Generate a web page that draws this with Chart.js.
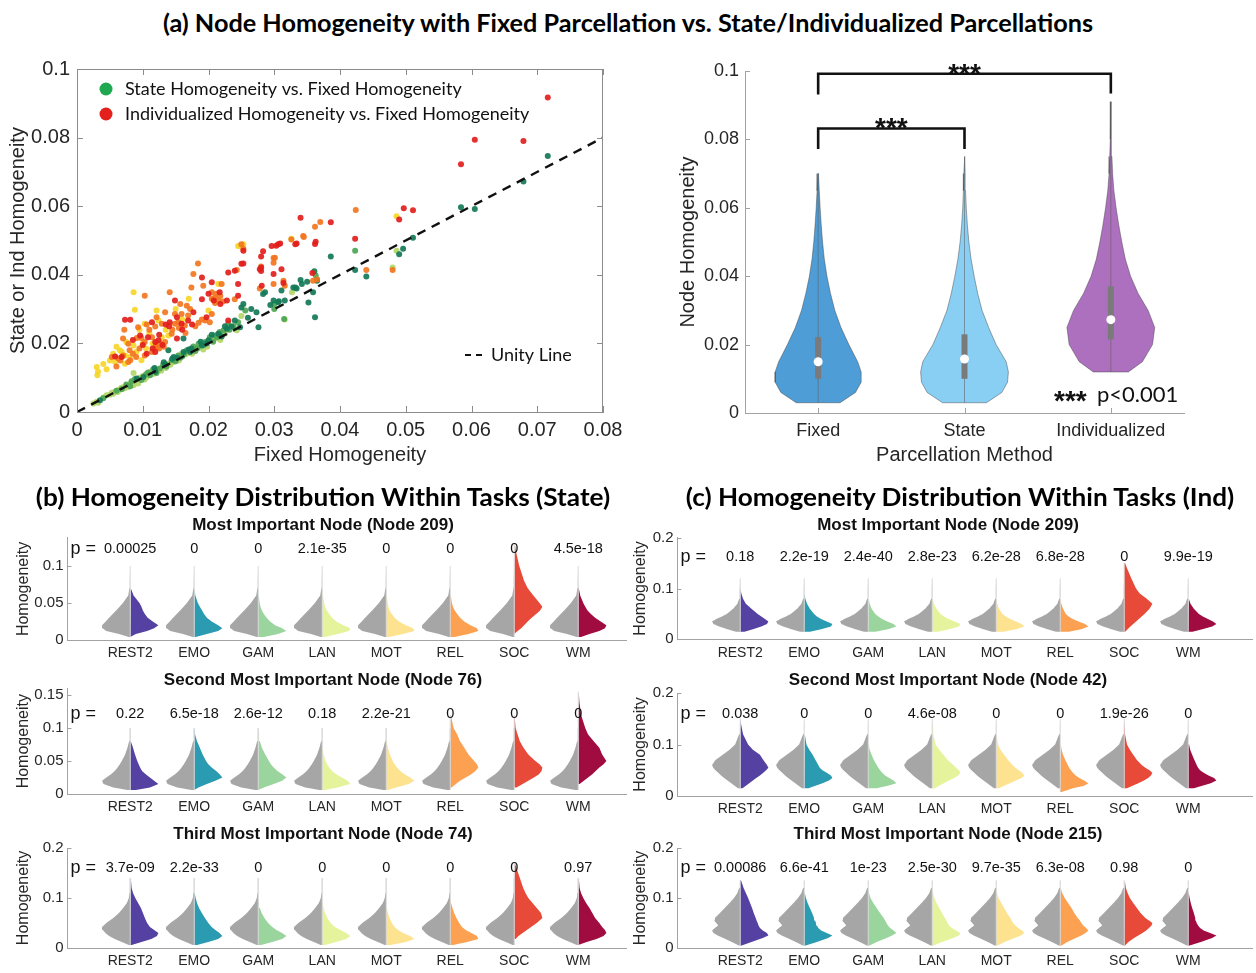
<!DOCTYPE html>
<html lang="en">
<head>
<meta charset="utf-8">
<title>Node homogeneity across parcellations</title>
<script src="https://cdn.jsdelivr.net/npm/chart.js@4.4.1/dist/chart.umd.min.js"></script>
<style>
  html, body { margin: 0; padding: 0; background: #fff; }
  #page { position: relative; width: 1256px; height: 973px; overflow: hidden; background: #fff; }
  #page canvas { position: absolute; }
  .ttl { position: absolute; white-space: nowrap; line-height: 1; color: #000; transform: translate(-50%, -50%); z-index: 2; }
  .head { font-family: Lato, 'Open Sans', sans-serif; font-weight: 700; font-size: 25px; }
  .sub { font-family: 'Liberation Sans', Arial, sans-serif; font-weight: 700; font-size: 17px; color: #111; }
</style>
</head>
<body>
<div id="page">
  <div class="ttl head" style="left:628px;top:22px" data-w="930">(a) Node Homogeneity with Fixed Parcellation vs. State/Individualized Parcellations</div>
  <div class="ttl head" style="left:323px;top:496px" data-w="574">(b) Homogeneity Distribution Within Tasks (State)</div>
  <div class="ttl head" style="left:960px;top:496px" data-w="548">(c) Homogeneity Distribution Within Tasks (Ind)</div>

  <div class="ttl sub" style="left:323px;top:524px">Most Important Node (Node 209)</div>
  <div class="ttl sub" style="left:323px;top:679px">Second Most Important Node (Node 76)</div>
  <div class="ttl sub" style="left:323px;top:833px">Third Most Important Node (Node 74)</div>
  <div class="ttl sub" style="left:948px;top:524px">Most Important Node (Node 209)</div>
  <div class="ttl sub" style="left:948px;top:679px">Second Most Important Node (Node 42)</div>
  <div class="ttl sub" style="left:948px;top:833px">Third Most Important Node (Node 215)</div>

  <canvas id="scatter" width="630" height="420" style="left:0;top:50px"></canvas>
  <canvas id="violin" width="616" height="420" style="left:640px;top:50px"></canvas>
  <canvas id="b1" width="630" height="165" style="left:0;top:505px"></canvas>
  <canvas id="b2" width="630" height="160" style="left:0;top:660px"></canvas>
  <canvas id="b3" width="630" height="158" style="left:0;top:815px"></canvas>
  <canvas id="c1" width="626" height="165" style="left:630px;top:505px"></canvas>
  <canvas id="c2" width="626" height="160" style="left:630px;top:660px"></canvas>
  <canvas id="c3" width="626" height="158" style="left:630px;top:815px"></canvas>
</div>

<script>
// ---------------- (a) left: per-node homogeneity, fixed vs state / individualized ----------------
// [fixed homogeneity, state or individualized homogeneity]
const stateDark = [[0.0035,0.0034],[0.0091,0.0098],[0.0101,0.0102],[0.0118,0.0128],[0.0119,0.0117],[0.0132,0.0145],[0.0134,0.0139],[0.0139,0.0180],[0.0145,0.0155],[0.0147,0.0160],[0.0152,0.0158],[0.0162,0.0175],[0.0162,0.0214],[0.0170,0.0182],[0.0172,0.0175],[0.0174,0.0185],[0.0188,0.0205],[0.0190,0.0194],[0.0197,0.0200],[0.0200,0.0209],[0.0205,0.0225],[0.0215,0.0228],[0.0220,0.0220],[0.0225,0.0250],[0.0228,0.0243],[0.0235,0.0249],[0.0240,0.0267],[0.0248,0.0247],[0.0250,0.0305],[0.0253,0.0315],[0.0260,0.0275],[0.0265,0.0300],[0.0273,0.0291],[0.0276,0.0247],[0.0283,0.0344],[0.0286,0.0349],[0.0294,0.0312],[0.0299,0.0325],[0.0306,0.0320],[0.0307,0.0323],[0.0311,0.0354],[0.0316,0.0325],[0.0329,0.0363],[0.0332,0.0363],[0.0334,0.0360],[0.0340,0.0385],[0.0342,0.0373],[0.0350,0.0380],[0.0352,0.0319],[0.0359,0.0349],[0.0361,0.0410],[0.0362,0.0276],[0.0365,0.0383],[0.0386,0.0453],[0.0423,0.0414],[0.0440,0.0395],[0.0490,0.0460],[0.0496,0.0476],[0.0511,0.0508],[0.0584,0.0597],[0.0605,0.0592],[0.0679,0.0672],[0.0716,0.0746]];
const stateMid = [[0.0040,0.0040],[0.0060,0.0062],[0.0068,0.0066],[0.0075,0.0080],[0.0081,0.0075],[0.0083,0.0090],[0.0088,0.0096],[0.0098,0.0093],[0.0105,0.0110],[0.0108,0.0115],[0.0111,0.0107],[0.0116,0.0125],[0.0121,0.0114],[0.0126,0.0127],[0.0131,0.0138],[0.0136,0.0133],[0.0144,0.0151],[0.0150,0.0148],[0.0154,0.0165],[0.0157,0.0158],[0.0160,0.0162],[0.0163,0.0170],[0.0167,0.0180],[0.0177,0.0191],[0.0180,0.0178],[0.0183,0.0185],[0.0185,0.0199],[0.0193,0.0195],[0.0195,0.0204],[0.0202,0.0218],[0.0207,0.0205],[0.0210,0.0223],[0.0213,0.0218],[0.0217,0.0233],[0.0223,0.0238],[0.0230,0.0257],[0.0232,0.0240],[0.0238,0.0250],[0.0245,0.0262],[0.0256,0.0296],[0.0300,0.0300],[0.0300,0.0315],[0.0315,0.0271],[0.0363,0.0398],[0.0365,0.0386],[0.0423,0.0470]];
const stateLight = [[0.0025,0.0025],[0.0030,0.0030],[0.0032,0.0027],[0.0040,0.0042],[0.0045,0.0049],[0.0050,0.0050],[0.0053,0.0056],[0.0055,0.0053],[0.0058,0.0059],[0.0062,0.0058],[0.0063,0.0064],[0.0067,0.0070],[0.0070,0.0072],[0.0073,0.0069],[0.0076,0.0077],[0.0078,0.0073],[0.0082,0.0084],[0.0086,0.0078],[0.0086,0.0114],[0.0088,0.0088],[0.0090,0.0092],[0.0093,0.0083],[0.0095,0.0100],[0.0100,0.0105],[0.0103,0.0095],[0.0106,0.0102],[0.0112,0.0118],[0.0114,0.0110],[0.0118,0.0112],[0.0124,0.0122],[0.0128,0.0120],[0.0130,0.0131],[0.0135,0.0128],[0.0139,0.0141],[0.0142,0.0138],[0.0146,0.0145],[0.0149,0.0153],[0.0155,0.0150],[0.0159,0.0170],[0.0165,0.0168],[0.0169,0.0172],[0.0175,0.0170],[0.0179,0.0185],[0.0187,0.0188],[0.0192,0.0182],[0.0198,0.0190],[0.0205,0.0209],[0.0212,0.0215],[0.0218,0.0210],[0.0225,0.0228],[0.0243,0.0238],[0.0250,0.0280],[0.0316,0.0270],[0.0327,0.0349],[0.0480,0.0421],[0.0486,0.0470]];
const indRed = [[0.0058,0.0162],[0.0068,0.0160],[0.0073,0.0269],[0.0081,0.0269],[0.0085,0.0210],[0.0096,0.0223],[0.0100,0.0195],[0.0106,0.0170],[0.0108,0.0218],[0.0114,0.0262],[0.0115,0.0185],[0.0119,0.0175],[0.0119,0.0204],[0.0124,0.0209],[0.0125,0.0225],[0.0130,0.0195],[0.0135,0.0255],[0.0140,0.0250],[0.0141,0.0262],[0.0149,0.0325],[0.0152,0.0214],[0.0152,0.0276],[0.0159,0.0257],[0.0160,0.0240],[0.0169,0.0267],[0.0175,0.0255],[0.0177,0.0291],[0.0190,0.0329],[0.0190,0.0392],[0.0197,0.0276],[0.0200,0.0345],[0.0205,0.0378],[0.0208,0.0325],[0.0217,0.0349],[0.0218,0.0315],[0.0228,0.0325],[0.0230,0.0267],[0.0230,0.0407],[0.0240,0.0412],[0.0245,0.0339],[0.0245,0.0373],[0.0250,0.0432],[0.0253,0.0433],[0.0253,0.0470],[0.0278,0.0416],[0.0280,0.0411],[0.0280,0.0421],[0.0280,0.0453],[0.0281,0.0368],[0.0283,0.0469],[0.0296,0.0484],[0.0299,0.0402],[0.0303,0.0485],[0.0306,0.0489],[0.0309,0.0491],[0.0311,0.0416],[0.0314,0.0376],[0.0332,0.0489],[0.0334,0.0491],[0.0340,0.0566],[0.0358,0.0405],[0.0362,0.0490],[0.0363,0.0496],[0.0386,0.0553],[0.0423,0.0505],[0.0490,0.0561],[0.0497,0.0594],[0.0511,0.0588],[0.0584,0.0722],[0.0605,0.0794],[0.0679,0.0790],[0.0716,0.0917]];
const indOrange = [[0.0053,0.0160],[0.0060,0.0133],[0.0063,0.0156],[0.0066,0.0150],[0.0070,0.0165],[0.0070,0.0214],[0.0072,0.0240],[0.0078,0.0146],[0.0078,0.0199],[0.0080,0.0180],[0.0081,0.0151],[0.0085,0.0170],[0.0090,0.0160],[0.0091,0.0216],[0.0093,0.0247],[0.0095,0.0185],[0.0098,0.0216],[0.0103,0.0165],[0.0103,0.0204],[0.0103,0.0339],[0.0106,0.0255],[0.0110,0.0240],[0.0114,0.0175],[0.0114,0.0218],[0.0119,0.0249],[0.0120,0.0195],[0.0121,0.0189],[0.0121,0.0276],[0.0125,0.0185],[0.0128,0.0200],[0.0129,0.0257],[0.0132,0.0190],[0.0134,0.0204],[0.0134,0.0291],[0.0141,0.0349],[0.0144,0.0228],[0.0145,0.0240],[0.0149,0.0257],[0.0149,0.0286],[0.0154,0.0262],[0.0155,0.0245],[0.0157,0.0315],[0.0159,0.0286],[0.0164,0.0252],[0.0165,0.0230],[0.0167,0.0310],[0.0169,0.0281],[0.0172,0.0300],[0.0174,0.0363],[0.0177,0.0402],[0.0180,0.0250],[0.0184,0.0433],[0.0185,0.0260],[0.0190,0.0270],[0.0192,0.0368],[0.0195,0.0267],[0.0202,0.0262],[0.0205,0.0286],[0.0205,0.0330],[0.0205,0.0349],[0.0210,0.0318],[0.0210,0.0334],[0.0212,0.0345],[0.0215,0.0325],[0.0218,0.0338],[0.0220,0.0373],[0.0222,0.0322],[0.0240,0.0329],[0.0243,0.0414],[0.0250,0.0489],[0.0253,0.0476],[0.0278,0.0360],[0.0280,0.0424],[0.0299,0.0373],[0.0299,0.0435],[0.0299,0.0449],[0.0301,0.0450],[0.0314,0.0383],[0.0316,0.0368],[0.0326,0.0503],[0.0344,0.0513],[0.0345,0.0510],[0.0359,0.0383],[0.0362,0.0540],[0.0365,0.0386],[0.0370,0.0554],[0.0424,0.0589],[0.0440,0.0414],[0.0480,0.0414]];
const indYellow = [[0.0030,0.0131],[0.0031,0.0107],[0.0032,0.0117],[0.0040,0.0140],[0.0045,0.0125],[0.0050,0.0150],[0.0055,0.0170],[0.0058,0.0146],[0.0060,0.0190],[0.0065,0.0180],[0.0068,0.0175],[0.0073,0.0141],[0.0073,0.0165],[0.0075,0.0204],[0.0080,0.0160],[0.0086,0.0194],[0.0086,0.0349],[0.0088,0.0298],[0.0090,0.0175],[0.0095,0.0240],[0.0098,0.0151],[0.0100,0.0200],[0.0103,0.0257],[0.0105,0.0185],[0.0110,0.0230],[0.0115,0.0200],[0.0121,0.0296],[0.0124,0.0267],[0.0129,0.0218],[0.0135,0.0240],[0.0139,0.0223],[0.0150,0.0300],[0.0160,0.0270],[0.0170,0.0330],[0.0200,0.0296],[0.0215,0.0373],[0.0245,0.0484],[0.0248,0.0484],[0.0253,0.0489],[0.0326,0.0505],[0.0486,0.0571]];
const unityLine = [[0, 0], [0.08, 0.08]];
const scatterLegend = ['State Homogeneity vs. Fixed Homogeneity', 'Individualized Homogeneity vs. Fixed Homogeneity'];

// ---------------- (a) right: homogeneity distribution per parcellation ----------------
const methods = ['Fixed', 'State', 'Individualized'];
const violinLevels = [0.003,0.006,0.009,0.012,0.015,0.02,0.025,0.03,0.035,0.04,0.045,0.05,0.055,0.06,0.065,0.07,0.075,0.08,0.085,0.091];
const violinFixed  = [0.5,0.85,0.98,0.98,0.9,0.7,0.52,0.38,0.28,0.2,0.14,0.1,0.07,0.045,0.025,0.008,0,0,0,0];
const violinState  = [0.5,0.85,0.98,1.0,0.95,0.72,0.55,0.4,0.3,0.22,0.15,0.1,0.065,0.04,0.025,0.015,0.005,0,0,0];
const violinInd    = [0,0,0,0.4,0.72,0.95,1.0,0.85,0.62,0.45,0.33,0.25,0.18,0.12,0.07,0.04,0.025,0.015,0.008,0.004];
const boxLow  = [0.0100, 0.0100, 0.0215];
const boxHigh = [0.0222, 0.0230, 0.0370];
const medians = [0.0150, 0.0158, 0.0273];
const sigPairs = [[1, 3], [1, 2]];
const sigBar = [0.0992, 0.0832];
const sigLegEnds = [[0.0931, 0.0934], [0.0772, 0.0772]];
const sigLabel = '***';
const sigNote = 'p<0.001';

// ---------------- (b)/(c): within-task homogeneity, gray = fixed, colour = task ----------------
const tasks = ['REST2', 'EMO', 'GAM', 'LAN', 'MOT', 'REL', 'SOC', 'WM'];

const b1Levels = [0.004,0.008,0.012,0.016,0.02,0.025,0.03,0.035,0.04,0.045,0.05,0.06,0.07,0.08,0.1,0.12,0.13];
const b1Gray   = [0.05,0.4,0.85,0.98,1.0,0.87,0.75,0.62,0.5,0.38,0.26,0.07,0.03,0.015,0.006,0,0];
const b1Tasks = [
  [0.02,0.2,0.6,0.85,1.0,0.8,0.62,0.52,0.45,0.4,0.33,0.12,0.02,0,0,0,0],
  [0.05,0.45,0.85,1.0,0.85,0.62,0.45,0.35,0.28,0.2,0.13,0.04,0.01,0,0,0,0],
  [0.2,0.7,1.0,0.85,0.6,0.42,0.3,0.2,0.13,0.08,0.05,0.02,0.01,0,0,0,0],
  [0.1,0.55,0.95,1.0,0.75,0.5,0.35,0.25,0.17,0.1,0.07,0.03,0.01,0,0,0,0],
  [0.1,0.6,1.0,0.95,0.7,0.45,0.3,0.2,0.12,0.08,0.05,0.02,0.01,0,0,0,0],
  [0.15,0.65,1.0,0.95,0.72,0.5,0.35,0.25,0.16,0.1,0.06,0.02,0.01,0,0,0,0],
  [0,0.02,0.12,0.25,0.35,0.48,0.62,0.78,0.92,1.0,0.9,0.68,0.48,0.35,0.18,0.06,0.02],
  [0.1,0.4,0.75,0.95,1.0,0.8,0.6,0.45,0.33,0.25,0.18,0.07,0.02,0.01,0,0,0]
];
const b1P = ['0.00025', '0', '0', '2.1e-35', '0', '0', '0', '4.5e-18'];

const b2Levels = [0.006,0.01,0.015,0.02,0.025,0.03,0.035,0.04,0.045,0.05,0.06,0.07,0.08,0.09,0.1,0.12,0.14,0.155];
const b2Gray   = [0.1,0.6,0.95,1.0,0.85,0.68,0.55,0.45,0.37,0.3,0.18,0.1,0.04,0.02,0.01,0,0,0];
const b2Tasks = [
  [0.2,0.7,1.0,0.85,0.7,0.55,0.42,0.35,0.3,0.25,0.17,0.1,0.02,0.01,0.01,0,0,0],
  [0.02,0.15,0.45,0.75,1.0,0.9,0.78,0.62,0.5,0.42,0.3,0.2,0.1,0.03,0.01,0,0,0],
  [0.02,0.2,0.55,0.85,1.0,0.85,0.68,0.55,0.45,0.38,0.25,0.13,0.06,0.03,0.02,0,0,0],
  [0.1,0.55,1.0,0.9,0.7,0.5,0.35,0.25,0.17,0.12,0.05,0.02,0.01,0,0,0,0,0],
  [0.05,0.35,0.8,1.0,0.85,0.65,0.5,0.38,0.3,0.23,0.13,0.06,0.02,0.01,0,0,0,0],
  [0,0.05,0.2,0.35,0.55,0.75,0.9,1.0,0.95,0.85,0.65,0.5,0.35,0.25,0.12,0.02,0,0],
  [0,0.08,0.3,0.5,0.7,0.88,0.97,1.0,0.9,0.75,0.5,0.33,0.2,0.12,0.05,0.01,0,0],
  [0,0,0.05,0.2,0.35,0.5,0.62,0.75,0.9,1.0,0.85,0.75,0.55,0.35,0.25,0.1,0.04,0.02]
];
const b2P = ['0.22', '6.5e-18', '2.6e-12', '0.18', '2.2e-21', '0', '0', '0'];

const b3Levels = [0.006,0.012,0.018,0.024,0.03,0.036,0.042,0.05,0.06,0.07,0.08,0.09,0.1,0.11,0.12,0.14,0.16,0.17];
const b3Gray   = [0.05,0.3,0.55,0.75,0.88,0.97,1.0,0.85,0.6,0.4,0.25,0.12,0.05,0.03,0.02,0.01,0,0];
const b3Tasks = [
  [0.05,0.4,0.75,0.95,1.0,0.85,0.7,0.6,0.52,0.45,0.38,0.28,0.18,0.1,0.05,0.02,0,0],
  [0.1,0.5,0.85,1.0,0.9,0.75,0.62,0.5,0.38,0.27,0.17,0.1,0.05,0.02,0.01,0,0,0],
  [0.1,0.5,0.85,1.0,0.85,0.65,0.5,0.35,0.22,0.12,0.06,0.03,0.01,0,0,0,0,0],
  [0.1,0.5,0.85,1.0,0.85,0.65,0.45,0.3,0.18,0.1,0.05,0.02,0.01,0,0,0,0,0],
  [0.15,0.7,1.0,0.85,0.6,0.42,0.3,0.2,0.12,0.06,0.02,0.01,0,0,0,0,0,0],
  [0.1,0.6,1.0,0.95,0.75,0.55,0.42,0.32,0.22,0.14,0.08,0.03,0.01,0,0,0,0,0],
  [0,0,0.05,0.15,0.3,0.45,0.6,0.8,1.0,0.95,0.8,0.65,0.5,0.4,0.32,0.2,0.08,0.02],
  [0.02,0.3,0.65,0.9,1.0,0.95,0.85,0.75,0.6,0.5,0.4,0.28,0.18,0.1,0.05,0.02,0,0]
];
const b3P = ['3.7e-09', '2.2e-33', '0', '0', '0', '0', '0', '0.97'];

const c1Levels = [0.01,0.015,0.02,0.025,0.03,0.035,0.04,0.045,0.05,0.06,0.07,0.08,0.09,0.1,0.12,0.14,0.15];
const c1Gray   = [0,0.15,0.45,0.75,0.95,1.0,0.85,0.65,0.48,0.25,0.1,0.04,0.02,0.01,0.005,0,0];
const c1Tasks = [
  [0,0.15,0.45,0.75,0.95,1.0,0.88,0.75,0.62,0.4,0.2,0.1,0.04,0.01,0,0,0],
  [0,0.2,0.6,0.95,1.0,0.8,0.6,0.45,0.35,0.2,0.1,0.04,0.01,0,0,0,0],
  [0,0.25,0.7,1.0,0.9,0.68,0.5,0.36,0.25,0.12,0.05,0.02,0,0,0,0,0],
  [0,0.2,0.6,0.95,1.0,0.8,0.58,0.42,0.3,0.15,0.06,0.02,0.01,0,0,0,0],
  [0,0.25,0.7,1.0,0.9,0.7,0.5,0.34,0.22,0.1,0.04,0.01,0,0,0,0,0],
  [0,0.3,0.75,1.0,0.88,0.65,0.45,0.3,0.2,0.1,0.04,0.01,0,0,0,0,0],
  [0,0.03,0.12,0.22,0.32,0.42,0.52,0.62,0.72,0.9,1.0,0.8,0.55,0.42,0.25,0.1,0.03],
  [0,0.15,0.5,0.85,1.0,0.88,0.7,0.52,0.38,0.2,0.08,0.02,0,0,0,0,0]
];
const c1P = ['0.18', '2.2e-19', '2.4e-40', '2.8e-23', '6.2e-28', '6.8e-28', '0', '9.9e-19'];

const c2Levels = [0.008,0.015,0.02,0.025,0.03,0.035,0.04,0.045,0.05,0.055,0.06,0.07,0.08,0.09,0.1,0.12,0.14,0.15];
const c2Gray   = [0,0.08,0.2,0.32,0.45,0.57,0.68,0.78,0.88,0.96,1.0,0.88,0.62,0.38,0.18,0.04,0.01,0.005];
const c2Tasks = [
  [0,0.08,0.2,0.32,0.45,0.57,0.7,0.82,0.92,1.0,0.95,0.82,0.7,0.45,0.28,0.1,0.03,0.01],
  [0,0.15,0.4,0.65,0.88,1.0,0.95,0.8,0.65,0.55,0.5,0.4,0.3,0.18,0.08,0.02,0,0],
  [0,0.3,0.7,1.0,0.9,0.75,0.6,0.5,0.42,0.36,0.3,0.2,0.12,0.05,0.02,0.01,0,0],
  [0,0.1,0.25,0.42,0.6,0.78,0.92,1.0,0.95,0.85,0.75,0.55,0.4,0.25,0.12,0.04,0.02,0.01],
  [0,0.1,0.28,0.48,0.7,0.9,1.0,0.92,0.8,0.68,0.58,0.42,0.28,0.15,0.06,0.01,0,0],
  [0.05,0.45,0.85,1.0,0.85,0.68,0.55,0.45,0.38,0.32,0.27,0.18,0.1,0.05,0.02,0,0,0],
  [0,0.1,0.3,0.5,0.7,0.85,0.95,1.0,0.9,0.75,0.62,0.45,0.32,0.2,0.1,0.03,0.01,0.005],
  [0,0.2,0.5,0.8,1.0,0.92,0.72,0.55,0.42,0.35,0.3,0.22,0.14,0.07,0.03,0,0,0]
];
const c2P = ['0.038', '0', '0', '4.6e-08', '0', '0', '1.9e-26', '0'];

const c3Levels = [0.005,0.012,0.02,0.025,0.03,0.035,0.04,0.045,0.05,0.055,0.06,0.07,0.08,0.09,0.1,0.11,0.12,0.135];
const c3Gray   = [0.05,0.3,0.6,0.8,0.95,1.0,0.9,0.78,0.85,0.93,0.9,0.72,0.55,0.38,0.22,0.1,0.04,0.01];
const c3Tasks = [
  [0.05,0.4,0.8,1.0,0.95,0.8,0.7,0.65,0.62,0.58,0.55,0.48,0.42,0.35,0.28,0.2,0.12,0.03],
  [0.05,0.45,0.85,1.0,0.8,0.6,0.5,0.45,0.42,0.38,0.35,0.28,0.2,0.12,0.06,0.02,0.01,0],
  [0.05,0.3,0.65,0.85,1.0,0.9,0.78,0.7,0.65,0.6,0.55,0.42,0.3,0.18,0.08,0.03,0.01,0],
  [0.05,0.35,0.75,0.95,1.0,0.85,0.7,0.6,0.55,0.5,0.45,0.35,0.25,0.15,0.08,0.03,0.01,0],
  [0.05,0.3,0.65,0.88,1.0,0.92,0.78,0.68,0.6,0.55,0.5,0.38,0.28,0.18,0.08,0.03,0.01,0],
  [0.05,0.25,0.55,0.75,0.9,1.0,0.92,0.82,0.75,0.7,0.62,0.5,0.4,0.28,0.16,0.07,0.02,0],
  [0.03,0.15,0.35,0.5,0.65,0.78,0.88,0.97,1.0,0.88,0.75,0.58,0.45,0.32,0.2,0.12,0.06,0.02],
  [0.05,0.45,0.85,1.0,0.78,0.55,0.42,0.35,0.3,0.27,0.25,0.2,0.14,0.09,0.05,0.02,0.01,0]
];
const c3P = ['0.00086', '6.6e-41', '1e-23', '2.5e-30', '9.7e-35', '6.3e-08', '0.98', '0'];

// ---------------- styling ----------------
const SANS = "'Liberation Sans', Arial, sans-serif";
const HUMAN = "Lato, 'Open Sans', sans-serif";
const INK = '#262626';
const AXIS = '#a3a3a3';
const FIXED_GRAY = '#a6a6a6';
const taskColors = ['#5441a1', '#2b9bb2', '#9bd59e', '#e5f49c', '#fde290', '#fca152', '#e84a39', '#a00b40'];
const plainNum = v => String(+Number(v).toFixed(4));   // 0.1 rather than 0.10

Chart.defaults.font.family = SANS;
Chart.defaults.color = INK;
Chart.defaults.animation = false;
Chart.defaults.events = [];
Chart.defaults.plugins.legend.display = false;
Chart.defaults.plugins.tooltip.enabled = false;

// MATLAB-style tick marks that point into the plot, optionally with a full box
Chart.register({
  id: 'innerTicks',
  afterDatasetsDraw(chart, args, o) {
    if (!o || !o.len) return;
    const {ctx, chartArea: a} = chart;
    const xs = chart.scales.x, ys = chart.scales.y;
    ctx.save();
    ctx.strokeStyle = o.color || AXIS;
    ctx.lineWidth = 1;
    ctx.beginPath();
    if (o.box) {
      ctx.moveTo(a.left, a.top + 0.5); ctx.lineTo(a.right, a.top + 0.5);
      ctx.moveTo(a.right - 0.5, a.top); ctx.lineTo(a.right - 0.5, a.bottom);
    }
    if (o.x) for (const t of xs.ticks) {
      const px = Math.round(xs.getPixelForValue(t.value)) + 0.5;
      ctx.moveTo(px, a.bottom); ctx.lineTo(px, a.bottom - o.len);
      if (o.box) { ctx.moveTo(px, a.top); ctx.lineTo(px, a.top + o.len); }
    }
    if (o.y) for (const t of ys.ticks) {
      const py = Math.round(ys.getPixelForValue(t.value)) + 0.5;
      ctx.moveTo(a.left, py); ctx.lineTo(a.left + o.len, py);
      if (o.box) { ctx.moveTo(a.right, py); ctx.lineTo(a.right - o.len, py); }
    }
    ctx.stroke();
    ctx.restore();
  }
});

const pts = arr => arr.map(([x, y]) => ({x, y}));
const firstIdx = w => w.findIndex(v => v > 0);
const lastIdx = w => w.length - 1 - [...w].reverse().findIndex(v => v > 0);

// one side of a violin, closed against its centre line
function halfShape(center, levels, widths, side, half) {
  const i0 = firstIdx(widths), i1 = lastIdx(widths);
  const out = [{x: center, y: levels[i0]}];
  for (let i = i0; i <= i1; i++) out.push({x: center + side * widths[i] * half, y: levels[i]});
  out.push({x: center, y: levels[i1]});
  return out;
}
// full (mirrored) violin outline
function fullShape(center, levels, widths, half) {
  const i0 = firstIdx(widths), i1 = lastIdx(widths);
  const right = [], left = [];
  for (let i = i0; i <= i1; i++) right.push({x: center + widths[i] * half, y: levels[i]});
  for (let i = i1; i >= i0; i--) left.push({x: center - widths[i] * half, y: levels[i]});
  return [...right, ...left, right[0]];
}

// ---------------- scatter ----------------
const dot = (data, color, order) => ({data: pts(data), backgroundColor: color, borderWidth: 0, pointRadius: 3, order});
const GREEN_KEY = '#1fa84f', RED_KEY = '#e3201b';

new Chart(document.getElementById('scatter'), {
  type: 'scatter',
  data: {
    datasets: [
      {data: pts(unityLine), showLine: true, borderColor: '#111', borderWidth: 2.4, borderDash: [9, 7], pointRadius: 0, order: 0},
      dot(indRed, 'rgba(226,30,28,0.92)', 1),
      dot(indOrange, 'rgba(242,118,32,0.92)', 2),
      dot(indYellow, 'rgba(246,214,40,0.92)', 3),
      dot(stateDark, 'rgba(20,122,88,0.92)', 4),
      dot(stateMid, 'rgba(76,166,82,0.92)', 5),
      dot(stateLight, 'rgba(178,214,104,0.92)', 6)
    ]
  },
  options: {
    responsive: false,
    layout: {padding: {left: 0, right: 27, top: 17, bottom: 0}},
    scales: {
      x: {
        type: 'linear', min: 0, max: 0.08,
        ticks: {stepSize: 0.01, font: {size: 20}, padding: 6, maxRotation: 0, callback: plainNum},
        grid: {display: false, drawTicks: false}, border: {color: '#8c8c8c'},
        title: {display: true, text: 'Fixed Homogeneity', font: {size: 20}, padding: {top: 0, bottom: 3}},
        afterFit: s => { s.height = 58; }
      },
      y: {
        min: 0, max: 0.1,
        ticks: {stepSize: 0.02, font: {size: 20}, padding: 7, callback: plainNum},
        grid: {display: false, drawTicks: false}, border: {color: '#8c8c8c'},
        title: {display: true, text: 'State or Ind Homogeneity', font: {size: 20}, padding: {top: 6, bottom: 0}},
        afterFit: s => { s.width = 77; }
      }
    },
    plugins: {innerTicks: {x: true, y: true, box: true, len: 6, color: '#8c8c8c'}}
  },
  plugins: [{
    id: 'scatterKey',
    afterDraw(chart) {
      const {ctx, chartArea: a} = chart;
      ctx.save();
      ctx.font = '18px ' + HUMAN;
      ctx.textBaseline = 'middle';
      [[GREEN_KEY, scatterLegend[0]], [RED_KEY, scatterLegend[1]]].forEach(([col, txt], i) => {
        const y = a.top + 20 + i * 25;
        ctx.fillStyle = col;
        ctx.beginPath(); ctx.arc(a.left + 29, y, 6.5, 0, Math.PI * 2); ctx.fill();
        ctx.fillStyle = '#111';
        ctx.fillText(txt, a.left + 48, y);
      });
      const uy = a.top + 286;
      ctx.strokeStyle = '#111'; ctx.lineWidth = 2.2; ctx.setLineDash([6, 5]);
      ctx.beginPath(); ctx.moveTo(a.left + 388, uy); ctx.lineTo(a.left + 409, uy); ctx.stroke();
      ctx.setLineDash([]);
      ctx.fillText('Unity Line', a.left + 414, uy);
      ctx.restore();
    }
  }]
});

// ---------------- violins ----------------
const VIOLIN_HALF = 0.3;
const violinFills = ['#4f9dd6', '#89cff4', '#ad70bf'];
const violinData = [violinFixed, violinState, violinInd];
const violinSets = [];
violinData.forEach((w, k) => {
  const c = k + 1;
  violinSets.push({data: fullShape(c, violinLevels, w, VIOLIN_HALF), showLine: true, fill: 'shape',
    backgroundColor: violinFills[k], borderColor: 'rgba(60,60,60,0.55)', borderWidth: 0.8, pointRadius: 0, order: 5});
  violinSets.push({data: [{x: c, y: violinLevels[firstIdx(w)]}, {x: c, y: violinLevels[lastIdx(w)]}], showLine: true,
    borderColor: 'rgba(95,95,95,0.55)', borderWidth: 1, pointRadius: 0, order: 4});
  violinSets.push({data: [{x: c, y: boxLow[k]}, {x: c, y: boxHigh[k]}], showLine: true,
    borderColor: '#7a7a7a', borderWidth: 6, pointRadius: 0, order: 3});
});
violinSets.push({data: medians.map((m, k) => ({x: k + 1, y: m})), backgroundColor: '#ffffff', borderWidth: 0, pointRadius: 4.5, order: 2});
sigPairs.forEach(([a, b], i) => {
  violinSets.push({data: [{x: a, y: sigLegEnds[i][0]}, {x: a, y: sigBar[i]}, {x: b, y: sigBar[i]}, {x: b, y: sigLegEnds[i][1]}],
    showLine: true, borderColor: '#111', borderWidth: 2.6, pointRadius: 0, order: 1, clip: false});
});

new Chart(document.getElementById('violin'), {
  type: 'scatter',
  data: {datasets: violinSets},
  options: {
    responsive: false,
    layout: {padding: {left: 0, right: 72, top: 21, bottom: 0}},
    scales: {
      x: {
        type: 'linear', min: 0.5, max: 3.5,
        afterBuildTicks: s => { s.ticks = methods.map((m, i) => ({value: i + 1})); },
        ticks: {callback: v => methods[v - 1], font: {size: 18}, padding: 7, maxRotation: 0, autoSkip: false},
        grid: {display: false, drawTicks: false}, border: {color: AXIS},
        title: {display: true, text: 'Parcellation Method', font: {size: 20}, padding: {top: 0, bottom: 3}},
        afterFit: s => { s.height = 57; }
      },
      y: {
        min: 0, max: 0.1,
        ticks: {stepSize: 0.02, font: {size: 18}, padding: 6, callback: plainNum},
        grid: {display: false, drawTicks: false}, border: {color: AXIS},
        title: {display: true, text: 'Node Homogeneity', font: {size: 20}, padding: {top: 36, bottom: 0}},
        afterFit: s => { s.width = 105; }
      }
    },
    plugins: {innerTicks: {x: true, y: true, len: 5, color: AXIS}}
  },
  plugins: [{
    id: 'sigStars',
    afterDraw(chart) {
      const {ctx, chartArea: a} = chart;
      const xs = chart.scales.x, ys = chart.scales.y;
      ctx.save();
      ctx.fillStyle = '#111';
      ctx.font = 'bold 28px ' + SANS;
      ctx.textAlign = 'center';
      ctx.textBaseline = 'alphabetic';
      sigPairs.forEach(([p, q], i) => {
        ctx.fillText(sigLabel, xs.getPixelForValue((p + q) / 2), ys.getPixelForValue(sigBar[i]) + 9);
      });
      // key: stars centred on the text line, then the threshold
      const ky = a.bottom - 18;
      ctx.textAlign = 'left';
      ctx.fillText(sigLabel, a.left + 309, ky + 15);
      ctx.font = '22px ' + HUMAN;
      ctx.textBaseline = 'middle';
      ctx.fillText(sigNote, a.left + 352, ky);
      ctx.restore();
    }
  }]
});

// ---------------- split violins per task ----------------
const SPLIT_HALF = 0.44;
const splitPanels = [
  {id: 'b1', levels: b1Levels, gray: b1Gray, shapes: b1Tasks, p: b1P, yMax: 0.138, step: 0.05, pY: 0.123, axisW: 67.5, xMax: 8.75, top: 32.9, xH: 30, titlePad: 14},
  {id: 'b2', levels: b2Levels, gray: b2Gray, shapes: b2Tasks, p: b2P, yMax: 0.16,  step: 0.05, pY: 0.121, axisW: 67.5, xMax: 8.75, top: 28.4, xH: 26, titlePad: 14},
  {id: 'b3', levels: b3Levels, gray: b3Gray, shapes: b3Tasks, p: b3P, yMax: 0.2,   step: 0.1,  pY: 0.16,  axisW: 67.5, xMax: 8.75, top: 33,   xH: 25, titlePad: 14},
  {id: 'c1', levels: c1Levels, gray: c1Gray, shapes: c1Tasks, p: c1P, yMax: 0.2,   step: 0.1,  pY: 0.162, axisW: 47.5, xMax: 9,    top: 32.7, xH: 30.7, titlePad: 1},
  {id: 'c2', levels: c2Levels, gray: c2Gray, shapes: c2Tasks, p: c2P, yMax: 0.2,   step: 0.1,  pY: 0.159, axisW: 47.5, xMax: 9,    top: 33,   xH: 24, titlePad: 1},
  {id: 'c3', levels: c3Levels, gray: c3Gray, shapes: c3Tasks, p: c3P, yMax: 0.2,   step: 0.1,  pY: 0.16,  axisW: 47.5, xMax: 9,    top: 33,   xH: 25, titlePad: 1}
];

splitPanels.forEach(P => {
  const canvas = document.getElementById(P.id);
  const sets = [];
  tasks.forEach((t, k) => {
    const c = k + 1, w = P.shapes[k];
    const half = {showLine: true, fill: 'shape', borderColor: 'rgba(0,0,0,0)', borderWidth: 0, pointRadius: 0, order: 1};
    sets.push({...half, data: halfShape(c, P.levels, P.gray, -1, SPLIT_HALF), backgroundColor: FIXED_GRAY});
    sets.push({...half, data: halfShape(c, P.levels, w, 1, SPLIT_HALF), backgroundColor: taskColors[k]});
    const lo = Math.min(P.levels[firstIdx(w)], P.levels[firstIdx(P.gray)]);
    const hi = Math.max(P.levels[lastIdx(w)], P.levels[lastIdx(P.gray)]);
    sets.push({data: [{x: c, y: lo}, {x: c, y: hi}], showLine: true, borderColor: 'rgba(215,215,215,0.9)', borderWidth: 1, pointRadius: 0, order: 0});
  });
  new Chart(canvas, {
    type: 'scatter',
    data: {datasets: sets},
    options: {
      responsive: false,
      layout: {padding: {left: 0, right: canvas.width - P.axisW - (P.xMax - 0.02) * 64, top: P.top, bottom: 0}},
      scales: {
        x: {
          type: 'linear', min: 0.02, max: P.xMax,
          afterBuildTicks: s => { s.ticks = tasks.map((t, i) => ({value: i + 1})); },
          ticks: {callback: v => tasks[v - 1], font: {size: 14}, padding: 5, maxRotation: 0, autoSkip: false},
          grid: {display: false, drawTicks: false}, border: {color: AXIS},
          afterFit: s => { s.height = P.xH; }
        },
        y: {
          min: 0, max: P.yMax,
          ticks: {stepSize: P.step, includeBounds: false, font: {size: 15}, padding: 4, callback: plainNum},
          grid: {display: false, drawTicks: false}, border: {color: AXIS},
          title: {display: true, text: 'Homogeneity', font: {size: 16}, padding: {top: P.titlePad, bottom: 0}},
          afterFit: s => { s.width = P.axisW; }
        }
      },
      plugins: {innerTicks: {y: true, len: 4, color: AXIS}}
    },
    plugins: [{
      id: 'pLabels',
      afterDraw(chart) {
        const {ctx, chartArea: a} = chart;
        const xs = chart.scales.x, ys = chart.scales.y;
        const py = ys.getPixelForValue(P.pY);
        ctx.save();
        ctx.fillStyle = '#111';
        ctx.textBaseline = 'middle';
        ctx.font = '18px ' + SANS;
        ctx.textAlign = 'left';
        ctx.fillText('p =', a.left + 3, py);
        ctx.font = '14.5px ' + SANS;
        ctx.textAlign = 'center';
        P.p.forEach((v, i) => ctx.fillText(v, xs.getPixelForValue(i + 1), py));
        ctx.restore();
      }
    }]
  });
});

// bold panel headings are stretched to their set widths
function fitHeads() {
  document.querySelectorAll('[data-w]').forEach(el => {
    const k = +el.dataset.w / el.offsetWidth;
    el.style.transform = 'translate(-50%, -50%) scaleX(' + k.toFixed(4) + ')';
  });
}
fitHeads();
if (document.fonts && document.fonts.ready) document.fonts.ready.then(fitHeads);
</script>
</body>
</html>
